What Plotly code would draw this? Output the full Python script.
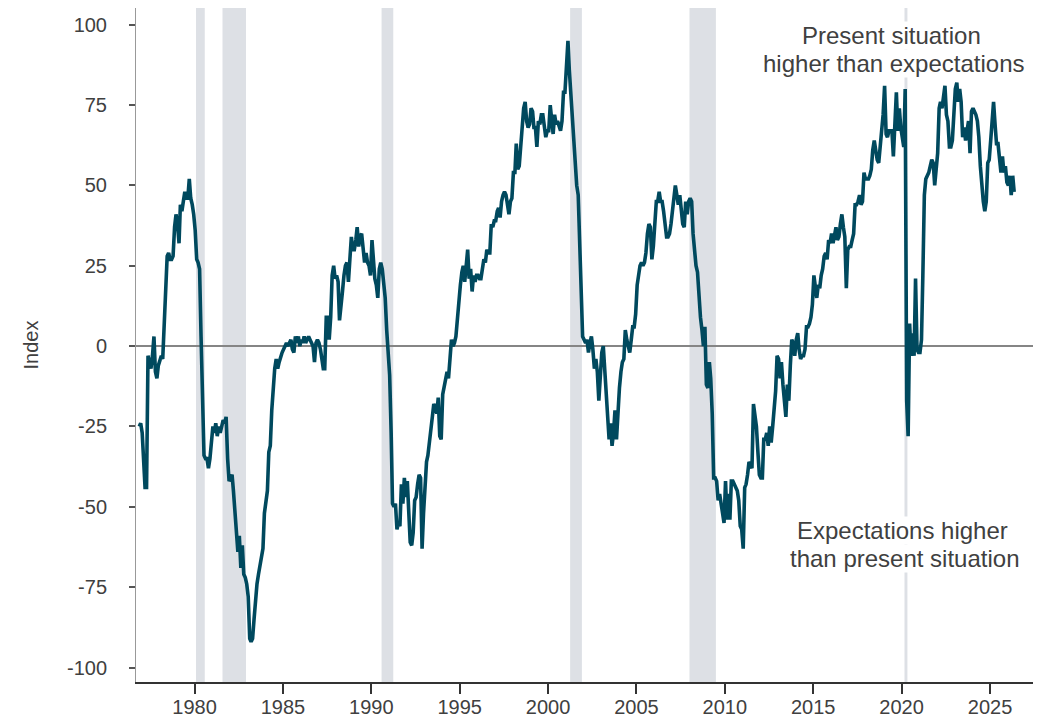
import pandas as pd
import plotly.graph_objects as go

# Present Situation index minus Expectations index, monthly (Nov 1976 - May 2026)
values_1970s = [
    -25, -24,
    -27, -36, -44, -44, -3, -5, -7, -3, 3, -8, -10, -6,
    -4, -3, -4, 8, 20, 28, 29, 27, 27, 28, 37, 41,
    38, 32, 44, 42, 45, 48, 46, 46, 52, 46, 44, 41,
]
values_1980s = [
    36, 27, 26, 24, 3, -18, -34, -35, -35, -38, -35, -30,
    -25, -27, -24, -28, -25, -27, -25, -23, -24, -22, -35, -42,
    -41, -40, -45, -52, -56, -64, -59, -69, -62, -71, -72, -74,
    -78, -91, -92, -91, -85, -77, -74, -71, -68, -66, -63, -52,
    -47, -45, -33, -31, -20, -11, -7, -4, -7, -5, -3, -2,
    -1, 0, 1, 0, 1, 2, -1, -2, 3, 1, 3, 0,
    2, 1, 3, 1, 2, 3, 2, 1, 0, -5, 1, 2,
    1, -1, -5, -7, -7, 9, 9, 2, 9, 22, 25, 21,
    22, 20, 8, 14, 17, 22, 25, 26, 20, 27, 34, 30,
    30, 33, 37, 31, 34, 35, 29, 26, 29, 26, 25, 22,
]
values_1990s = [
    33, 26, 21, 19, 15, 24, 26, 24, 19, 15, 5, -2,
    -9, -27, -49, -50, -49, -57, -55, -56, -43, -49, -41, -47,
    -42, -52, -61, -62, -58, -48, -47, -43, -40, -41, -63, -52,
    -44, -36, -34, -29, -27, -22, -18, -19, -21, -16, -28, -29,
    -15, -12, -11, -8, -10, -4, 2, 0, 1, 3, 9, 15,
    19, 23, 25, 20, 24, 30, 21, 24, 17, 22, 20, 22,
    22, 21, 21, 24, 27, 26, 30, 29, 29, 38, 37, 39,
    39, 42, 43, 40, 45, 47, 48, 47, 43, 41, 45, 46,
    54, 54, 63, 55, 56, 62, 69, 74, 76, 70, 68, 69,
    74, 73, 68, 68, 62, 70, 69, 72, 72, 68, 65, 67,
]
values_2000s = [
    67, 75, 70, 66, 72, 69, 70, 68, 67, 70, 79, 79,
    86, 95, 86, 78, 72, 64, 55, 50, 47, 31, 12, 3,
    2, 1, 2, -2, 1, 3, -1, -7, -4, -8, -17, -8,
    -2, 0, -6, -14, -23, -29, -24, -31, -27, -20, -29, -20,
    -13, -8, -5, -4, 5, 2, 0, -2, 2, 6, 6, 10,
    19, 22, 25, 26, 25, 26, 29, 35, 38, 37, 27, 31,
    40, 45, 45, 48, 45, 45, 42, 38, 34, 34, 35, 38,
    42, 47, 50, 47, 44, 47, 42, 38, 37, 45, 41, 45,
    46, 45, 35, 29, 25, 23, 15, 9, 5, 0, 6, -12,
    -13, -5, -10, -21, -41, -41, -42, -48, -46, -50, -52, -55,
]
values_2010s = [
    -42, -54, -46, -54, -42, -42, -43, -44, -45, -48, -56, -57,
    -63, -44, -43, -40, -36, -37, -38, -18, -22, -25, -33, -40,
    -41, -41, -29, -29, -27, -31, -25, -30, -25, -20, -14, -3,
    -4, -10, -5, -12, -16, -22, -12, -17, -6, 2, 1, -3,
    2, 4, -1, -4, -3, -3, -1, 6, 6, 7, 9, 13,
    22, 17, 15, 19, 18, 22, 24, 28, 29, 27, 33, 32,
    35, 32, 35, 37, 33, 34, 38, 41, 37, 34, 18, 30,
    31, 31, 33, 35, 44, 44, 45, 47, 44, 45, 54, 52,
    52, 52, 53, 55, 61, 64, 61, 58, 57, 62, 66, 72,
    81, 66, 65, 67, 67, 67, 59, 70, 79, 67, 74, 68,
]
values_2020s = [
    65, 62, 80, -17, -28, 7, -3, 4, -3, 21, -1, -2,
    -2, 2, 22, 47, 52, 53, 54, 56, 58, 57, 50, 55,
    60, 74, 76, 74, 78, 81, 72, 70, 62, 62, 64, 74,
    80, 82, 76, 80, 76, 65, 68, 64, 67, 70, 60, 73,
    74, 73, 72, 70, 65, 56, 49, 45, 42, 45, 57, 58,
    64, 71, 76, 69, 63, 63, 57, 54, 59, 54, 56, 51,
    50, 53, 47, 53, 48,
]

# NBER recession periods (shaded)
recession_starts = ["1980-02-01", "1981-08-01", "1990-08-01", "2001-04-01", "2008-01-01", "2020-03-01"]
recession_ends = ["1980-07-31", "1982-11-30", "1991-03-31", "2001-11-30", "2009-06-30", "2020-04-30"]

year_ticks = [1980, 1985, 1990, 1995, 2000, 2005, 2010, 2015, 2020, 2025]
index_ticks = [-100, -75, -50, -25, 0, 25, 50, 75, 100]

upper_note = ["Present situation", "higher than expectations"]
lower_note = ["Expectations higher", "than present situation"]

values = values_1970s + values_1980s + values_1990s + values_2000s + values_2010s + values_2020s
dates = pd.date_range("1976-11-01", periods=len(values), freq="MS") + pd.Timedelta(days=14)

LINE = "#00495E"
SHADE = "#DDE0E5"
TEXT = "#404040"
FONT = "Liberation Sans, Arial, sans-serif"

fig = go.Figure()
fig.add_trace(go.Scatter(
    x=dates, y=values, mode="lines",
    line=dict(color=LINE, width=3.6),
    hoverinfo="skip", showlegend=False,
))

for s, e in zip(recession_starts, recession_ends):
    fig.add_shape(type="rect", xref="x", yref="paper", x0=s, x1=e, y0=0, y1=1,
                  fillcolor=SHADE, line_width=0, layer="below")

fig.add_shape(type="line", xref="paper", yref="y", x0=0, x1=1, y0=0, y1=0,
              line=dict(color="#858585", width=2), layer="below")

def add_note(lines, xs, ys):
    for text, x, y in zip(lines, xs, ys):
        fig.add_annotation(text=text, xref="paper", yref="paper", x=x, y=y,
                           xanchor="center", yanchor="middle", showarrow=False,
                           font=dict(family=FONT, size=24, color=TEXT),
                           bgcolor="white", borderpad=0)

add_note(upper_note, [0.8417, 0.845], [0.9585, 0.9177])
add_note(lower_note, [0.854, 0.8573], [0.2255, 0.1835])

fig.update_layout(
    width=1051, height=723,
    margin=dict(l=136, r=18, t=8, b=41),
    paper_bgcolor="white", plot_bgcolor="white",
    font=dict(family=FONT, size=20, color=TEXT),
    showlegend=False,
)
fig.update_xaxes(
    type="date",
    range=["1976-09-09", "2027-06-08"],
    tickvals=[f"{y}-01-01" for y in year_ticks],
    ticktext=[str(y) for y in year_ticks],
    ticks="outside", ticklen=10, tickwidth=1.5, tickcolor="#333333",
    ticklabelstandoff=-4,
    showline=True, linecolor="#333333", linewidth=1.5,
    showgrid=False, zeroline=False, automargin=False,
    tickfont=dict(family=FONT, size=20, color=TEXT),
)
fig.update_yaxes(
    range=[-104.5, 105.2],
    tickvals=index_ticks,
    ticktext=[str(v) for v in index_ticks],
    ticks="outside", ticklen=6, tickwidth=1.5, tickcolor="#555555",
    ticklabelstandoff=18,
    showline=True, linecolor="#999999", linewidth=1,
    showgrid=False, zeroline=False, automargin=False,
    tickfont=dict(family=FONT, size=20, color=TEXT),
    title=dict(text="Index", font=dict(family=FONT, size=20, color=TEXT), standoff=22),
)

fig.write_html("out.html")
